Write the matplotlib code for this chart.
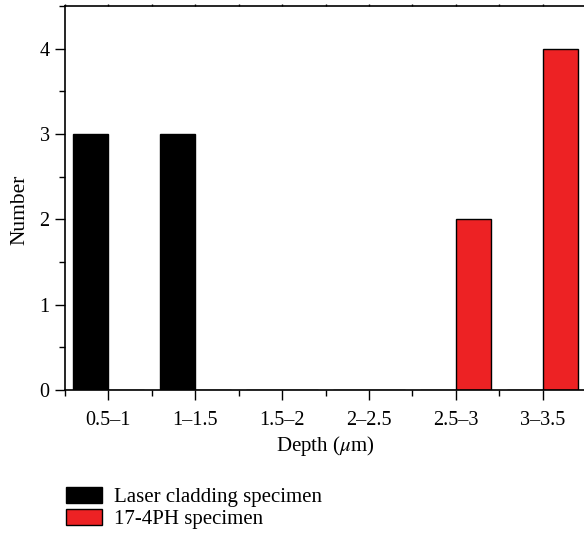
import matplotlib
matplotlib.use("Agg")
import matplotlib.pyplot as plt
import numpy as np
from matplotlib.ticker import MultipleLocator
from matplotlib.patches import Patch

categories = ["0.5\u20131", "1\u20131.5", "1.5\u20132", "2\u20132.5", "2.5\u20133", "3\u20133.5"]
laser = [3, 3, 0, 0, 0, 0]
ph17 = [0, 0, 0, 0, 2, 4]
series_names = ["Laser cladding specimen", "17-4PH specimen"]

plt.rcParams['font.family'] = ['Liberation Serif', 'DejaVu Serif']
plt.rcParams['mathtext.fontset'] = 'stix'

W, H = 584, 537
fig = plt.figure(figsize=(W/100, H/100), dpi=100)
ax = fig.add_axes([65/W, (H-390)/H, (586-65)/W, (390-6)/H])

x = np.arange(len(categories))
bw = 0.41
red = '#ED2224'
ax.bar(x, laser, width=-bw, align='edge', color='black', edgecolor='black', linewidth=1.0)
ax.bar(x, ph17, width=bw, align='edge', color=red, edgecolor='black', linewidth=1.0)

ax.set_xlim(-0.5, 5.5)
ax.set_ylim(0, 4.5)
ax.set_xticks(x)
ax.set_xticklabels(categories)
ax.xaxis.set_minor_locator(MultipleLocator(1, offset=0.5))
ax.yaxis.set_major_locator(MultipleLocator(1))
ax.yaxis.set_minor_locator(MultipleLocator(0.5))
ax.tick_params(axis='both', which='major', direction='out', length=7, width=1.0, labelsize=14.5, pad=4)
ax.tick_params(axis='x', which='major', pad=8)
ax.tick_params(axis='both', which='minor', direction='out', length=4, width=1.0)
ax.tick_params(axis='x', which='both', top=True, labeltop=False)
for t in ax.xaxis.get_major_ticks() + ax.xaxis.get_minor_ticks():
    t.tick2line.set_markersize(1.5)
ax.spines['right'].set_visible(False)
for s in ['left', 'bottom', 'top']:
    ax.spines[s].set_linewidth(1.2)

ax.set_xlabel(r"Depth ($\mu$m)", fontsize=15, labelpad=3)
ax.set_ylabel("Number", fontsize=15.5, labelpad=9)
ax.yaxis.set_label_coords(-0.068, (390-210)/384)

handles = [Patch(facecolor='black', edgecolor='black', label=series_names[0]),
           Patch(facecolor=red, edgecolor='black', label=series_names[1])]
fig.legend(handles=handles, loc='upper left', bbox_to_anchor=(66/W, 1 - 487/H),
           frameon=False, fontsize=15, handlelength=1.75, handleheight=0.8,
           handletextpad=0.55, labelspacing=0.08, borderaxespad=0, borderpad=0)

fig.savefig("out.png", dpi=100)
